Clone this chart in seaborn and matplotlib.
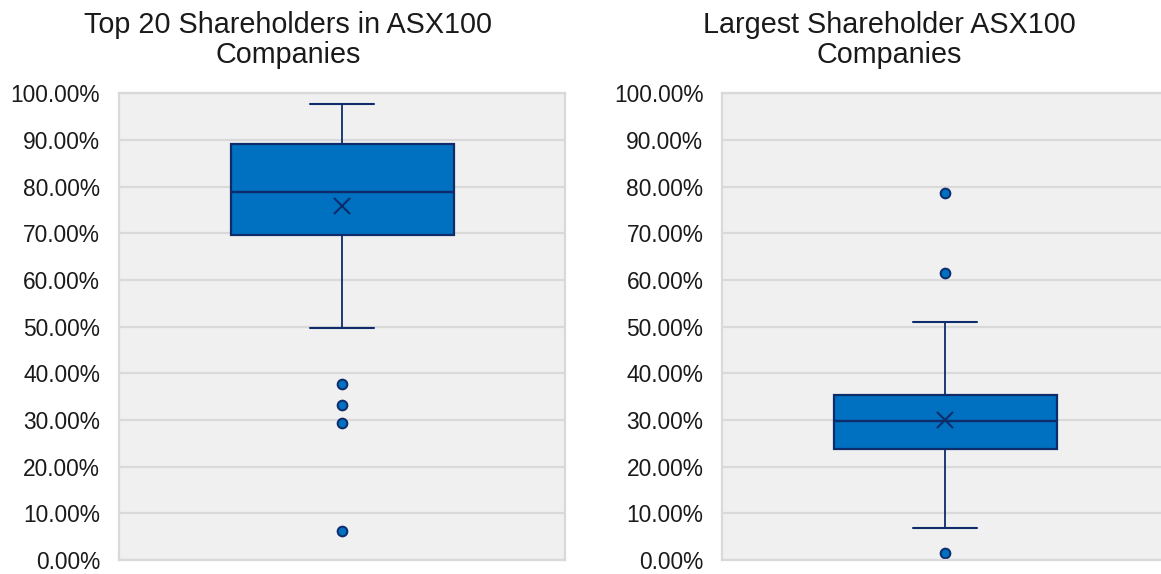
import numpy as np
import pandas as pd
import matplotlib
matplotlib.use("Agg")
import matplotlib.pyplot as plt
from matplotlib.ticker import PercentFormatter, MultipleLocator
import seaborn as sns

# ---- data (percent of shares held) ----
top20_low_outliers = [6.3, 29.4, 33.3, 37.8]
top20_body = [49.8, 62.0, 65.3, 67.0, 68.4, 69.3,
              69.7, 72.5, 73.8, 74.9, 75.8, 76.6, 77.2, 77.8, 78.2, 78.6,
              78.8, 80.3, 81.6, 82.9, 84.1, 85.2, 86.3, 87.3, 88.2, 88.9,
              89.2, 89.9, 90.6, 91.4, 92.2, 93.0, 93.9, 94.8, 95.7, 96.6,
              97.7]
largest_low_outliers = [1.5]
largest_body = [6.9, 9.8, 12.5, 14.6, 16.5, 18.3, 19.9, 21.4, 22.8,
                23.9, 24.2, 24.7, 25.3, 26.0, 26.7, 27.4, 28.1, 28.7, 29.3,
                29.9, 30.4, 31.0, 31.6, 32.2, 32.8, 33.4, 34.0, 34.5, 35.0,
                35.4, 35.9, 36.6, 37.4, 38.4, 39.7, 41.8, 45.0, 51.1]
largest_high_outliers = [61.6, 78.6]

titles = ["Top 20 Shareholders in ASX100\nCompanies",
          "Largest Shareholder ASX100\nCompanies"]

top20 = top20_low_outliers + top20_body
largest = largest_low_outliers + largest_body + largest_high_outliers

FILL = "#0070C0"
EDGE = "#0E2C6A"
TEXT = "#1A1A1A"

sns.set_theme(style="white")
plt.rcParams["font.family"] = ["Liberation Sans", "DejaVu Sans"]

W, H = 1161, 574
fig = plt.figure(figsize=(W / 100, H / 100), dpi=100)

axes_px = [(119, 93.5, 446, 466.5), (722, 93.5, 446, 466.5)]
title_cx = [288, 889]

for data, title, (x0, y0, w, h), tcx in zip([top20, largest], titles, axes_px, title_cx):
    ax = fig.add_axes([x0 / W, 1 - (y0 + h) / H, w / W, h / H])
    ax.set_facecolor("#F0F0F0")
    df = pd.DataFrame({"value": data})
    sns.boxplot(
        data=df, y="value", ax=ax, width=0.5, color=FILL, saturation=1,
        linecolor=EDGE, linewidth=1.6, whis=1.5,
        showmeans=True,
        meanprops=dict(marker="x", markeredgecolor=EDGE, markerfacecolor=EDGE,
                       markersize=12, markeredgewidth=1.5),
        flierprops=dict(marker="o", markerfacecolor=FILL, markeredgecolor=EDGE,
                        markersize=7, markeredgewidth=1.4),
        whiskerprops=dict(linewidth=1.3, color=EDGE),
        capprops=dict(linewidth=1.5, color=EDGE),
        medianprops=dict(linewidth=1.7, color=EDGE),
        capwidths=0.145,
    )
    ax.set_xlim(-0.5, 0.5)
    ax.set_ylim(0, 100)
    ax.yaxis.set_major_locator(MultipleLocator(10))
    ax.yaxis.set_major_formatter(PercentFormatter(xmax=100, decimals=2))
    ax.yaxis.grid(True, color="#D9D9D9", linewidth=1.6)
    ax.set_axisbelow(True)
    ax.set_xticks([])
    ax.set_xlabel("")
    ax.set_ylabel("")
    ax.tick_params(axis="y", length=0, pad=13.5, labelsize=16.4, labelcolor=TEXT)
    for s in ax.spines.values():
        s.set_visible(True)
        s.set_color("#D9D9D9")
        s.set_linewidth(1.6)
    fig.text(tcx / W, 1 - 63 / H, title, ha="center", va="baseline",
             multialignment="center", fontsize=20.7, color=TEXT, linespacing=1.1)

fig.savefig("out.png", dpi=100, facecolor="white")
